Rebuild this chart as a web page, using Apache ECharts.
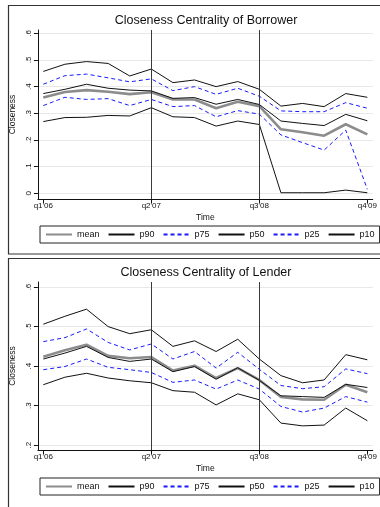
<!DOCTYPE html>
<html>
<head>
<meta charset="utf-8">
<script src="https://cdn.jsdelivr.net/npm/echarts@6/dist/echarts.min.js"></script>
<style>
html,body{margin:0;padding:0;background:#fff;}
#chart{width:380px;height:507px;}
</style>
</head>
<body>
<div id="chart"></div>
<script>
// ---- data ----
const seriesNames = ['mean', 'p90', 'p75', 'p50', 'p25', 'p10'];
const quarterIndex = [0,1,2,3,4,5,6,7,8,9,10,11,12,13,14,15]; // q1'06 .. q4'09
const timeTickPositions = [0, 5, 10, 15];
const timeTickLabels = ["q1'06", "q2'07", "q3'08", "q4'09"];
const eventLines = [5, 10]; // q2'07, q3'08

const borrowerMean = [0.359,0.380,0.387,0.381,0.372,0.379,0.352,0.352,0.319,0.343,0.327,0.240,0.229,0.216,0.259,0.221];
const borrowerP90  = [0.457,0.484,0.494,0.487,0.440,0.466,0.415,0.425,0.400,0.419,0.390,0.327,0.337,0.325,0.374,0.360];
const borrowerP75  = [0.409,0.441,0.447,0.433,0.418,0.429,0.385,0.400,0.371,0.394,0.364,0.309,0.306,0.306,0.340,0.319];
const borrowerP50  = [0.374,0.390,0.409,0.394,0.387,0.384,0.356,0.359,0.334,0.352,0.333,0.271,0.262,0.254,0.296,0.272];
const borrowerP25  = [0.329,0.360,0.352,0.355,0.329,0.352,0.325,0.329,0.287,0.310,0.297,0.219,0.190,0.162,0.237,0.015];
const borrowerP10  = [0.269,0.284,0.285,0.292,0.290,0.321,0.287,0.284,0.252,0.271,0.258,0.002,0.002,0.002,0.012,0.002];

const lenderMean = [0.424,0.440,0.454,0.426,0.420,0.423,0.389,0.401,0.370,0.395,0.365,0.322,0.316,0.315,0.353,0.334];
const lenderP90  = [0.506,0.526,0.544,0.500,0.482,0.492,0.450,0.464,0.437,0.468,0.418,0.376,0.358,0.365,0.429,0.416];
const lenderP75  = [0.462,0.472,0.494,0.460,0.441,0.456,0.418,0.437,0.395,0.435,0.392,0.351,0.343,0.348,0.393,0.381];
const lenderP50  = [0.418,0.433,0.450,0.422,0.412,0.418,0.386,0.399,0.367,0.396,0.364,0.325,0.323,0.321,0.354,0.346];
const lenderP25  = [0.391,0.399,0.418,0.397,0.391,0.384,0.359,0.365,0.342,0.365,0.342,0.298,0.284,0.294,0.323,0.309];
const lenderP10  = [0.353,0.372,0.382,0.370,0.363,0.358,0.338,0.334,0.302,0.330,0.315,0.256,0.249,0.251,0.294,0.262];

const borrowerYTicks = [0, 0.1, 0.2, 0.3, 0.4, 0.5, 0.6];
const borrowerYLabels = ['0', '.1', '.2', '.3', '.4', '.5', '.6'];
const lenderYTicks = [0.2, 0.3, 0.4, 0.5, 0.6];
const lenderYLabels = ['.2', '.3', '.4', '.5', '.6'];

const titles = ['Closeness Centrality of Borrower', 'Closeness Centrality of Lender'];

// ---- chart ----
const FONT = '"Liberation Sans", Arial, sans-serif';
const styles = {
  mean: {color: '#8c8c8c', width: 2.6, type: 'solid'},
  p90:  {color: '#111111', width: 1, type: 'solid'},
  p75:  {color: '#1a1aff', width: 1, type: [4, 3]},
  p50:  {color: '#111111', width: 1, type: 'solid'},
  p25:  {color: '#1a1aff', width: 1, type: [4, 3]},
  p10:  {color: '#111111', width: 1, type: 'solid'}
};
const panels = [
  {data: [borrowerMean, borrowerP90, borrowerP75, borrowerP50, borrowerP25, borrowerP10],
   yTicks: borrowerYTicks, yLabels: borrowerYLabels, ymin: -0.0214, ymax: 0.6124},
  {data: [lenderMean, lenderP90, lenderP75, lenderP50, lenderP25, lenderP10],
   yTicks: lenderYTicks, yLabels: lenderYLabels, ymin: 0.188, ymax: 0.6127}
];
const gridTops = [30, 282];
const gridHeights = [169, 168];

const grid = [], xAxis = [], yAxis = [], series = [], legend = [], title = [];
panels.forEach((p, k) => {
  grid.push({left: 37.5, right: 7, top: gridTops[k], height: gridHeights[k]});
  title.push({text: titles[k], left: 206, top: k === 0 ? 14 : 266, textAlign: 'center', padding: 0,
    textStyle: {fontSize: 12.5, fontWeight: 'normal', color: '#111', fontFamily: FONT}});
  xAxis.push({
    type: 'value', gridIndex: k, min: -0.25, max: 15.25,
    name: 'Time', nameLocation: 'middle', nameGap: 14,
    nameTextStyle: {fontSize: 8.5, color: '#111', fontFamily: FONT},
    axisLine: {show: true, onZero: false, lineStyle: {color: '#111', width: 1}},
    axisTick: {show: true, customValues: timeTickPositions, length: 4, lineStyle: {color: '#111'}},
    axisLabel: {customValues: timeTickPositions, fontSize: 8, color: '#111', fontFamily: FONT, margin: 3,
      formatter: v => timeTickLabels[timeTickPositions.indexOf(Math.round(v))] || ''},
    splitLine: {show: false}
  });
  yAxis.push({
    type: 'value', gridIndex: k, min: p.ymin, max: p.ymax,
    name: 'Closeness', nameLocation: 'middle', nameGap: 19,
    nameTextStyle: {fontSize: 8.5, color: '#111', fontFamily: FONT},
    axisLine: {show: true, onZero: false, lineStyle: {color: '#111', width: 1}},
    axisTick: {show: true, customValues: p.yTicks, length: 4, lineStyle: {color: '#111'}},
    axisLabel: {customValues: p.yTicks, rotate: 90, fontSize: 8, color: '#111', fontFamily: FONT, margin: 5,
      formatter: v => { const i = p.yTicks.findIndex(t => Math.abs(t - v) < 1e-6); return i >= 0 ? p.yLabels[i] : ''; }},
    splitLine: {show: true, lineStyle: {color: '#e8e8e8', width: 1}}
  });
  seriesNames.forEach((name, j) => {
    const st = styles[name];
    const s = {
      name: name, type: 'line', xAxisIndex: k, yAxisIndex: k,
      data: quarterIndex.map((q, i) => [q, p.data[j][i]]),
      symbol: 'none', showSymbol: false, silent: true, animation: false,
      lineStyle: {color: st.color, width: st.width, type: st.type},
      itemStyle: {color: st.color},
      z: 3
    };
    if (j === 0) {
      s.markLine = {symbol: 'none', silent: true, animation: false, label: {show: false},
        lineStyle: {color: '#3a3a3a', width: 1, type: 'solid'},
        data: eventLines.map(v => ({xAxis: v}))};
    }
    series.push(s);
  });
  legend.push({
    data: seriesNames, left: 40, top: k === 0 ? 226 : 478, width: 345, orient: 'horizontal',
    itemWidth: 26, itemHeight: 10, itemGap: 8,
    borderColor: '#222', borderWidth: 1, padding: [4, 5],
    itemStyle: {opacity: 0},
    textStyle: {fontSize: 9, color: '#111', fontFamily: FONT},
    selectedMode: false
  });
});

const chart = echarts.init(document.getElementById('chart'), null, {renderer: 'canvas'});
chart.setOption({
  backgroundColor: '#fff',
  animation: false,
  textStyle: {fontFamily: FONT},
  title, grid, xAxis, yAxis, series, legend,
  graphic: [
    {type: 'rect', shape: {x: 8.5, y: 5.5, width: 400, height: 248.5}, style: {fill: 'none', stroke: '#333', lineWidth: 1.2}, silent: true},
    {type: 'rect', shape: {x: 8.5, y: 258.5, width: 400, height: 260}, style: {fill: 'none', stroke: '#333', lineWidth: 1.2}, silent: true}
  ]
});
</script>
</body>
</html>
